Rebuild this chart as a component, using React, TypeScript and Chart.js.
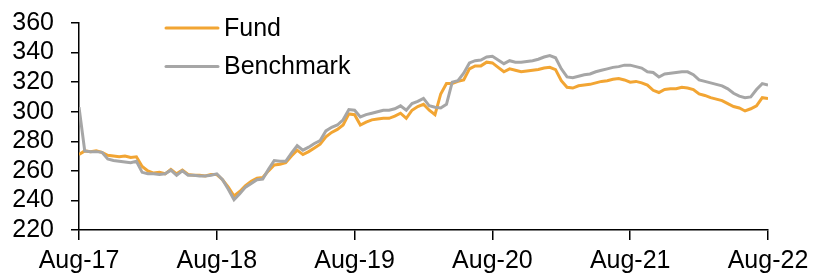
import React, { useEffect, useRef } from "react";
import { Chart, registerables } from "chart.js";

Chart.register(...registerables);

// Half-monthly observations, Aug-2017 .. Aug-2022
const fund: number[] = [
  271, 273.5, 273, 273.5, 272.5, 270.5, 270, 269.5, 270, 269,
  269.5, 263, 260, 258.5, 259, 258, 261, 258, 260.5, 257.5,
  257, 257, 256.5, 257.5, 257.5, 254, 249, 243, 246, 250,
  253, 255, 255.5, 260, 264, 264.5, 265.5, 270, 274, 271,
  273, 275.5, 278, 283, 286, 288, 291, 298.5, 298, 291,
  293, 294.5, 295, 295.5, 295.5, 297, 299, 295.5, 301, 303.5,
  305, 301, 298, 312, 319, 319, 320.5, 321.5, 329, 331,
  331, 333.5, 333, 330, 327, 329, 328, 327, 327.5, 328,
  328.5, 329.5, 330, 328.5, 321, 316.5, 316, 317.5, 318, 318.5,
  319.5, 320.5, 321, 322, 322.5, 321.5, 320, 320.5, 319.5, 318,
  314.5, 313, 315, 315.5, 315.5, 316.5, 316, 315, 312, 311,
  309.5, 308.5, 307.5, 305.5, 303.5, 302.5, 300.5, 302, 304, 309.5,
  309,
];

const benchmark: number[] = [
  303, 273.5, 273, 273, 272.5, 268, 267, 266.5, 266, 265.5,
  266.5, 259, 258, 258, 257.5, 258, 260.5, 257, 260, 257,
  257, 256.5, 256.5, 257, 258, 254, 247.5, 240.5, 244.5, 249,
  251.5, 254, 254.5, 261, 267, 266.5, 266.5, 272, 277, 274,
  276, 278.5, 280.5, 287, 289.5, 291, 294.5, 301.5, 301, 296.5,
  298, 299, 300, 301, 301, 302, 304, 301, 305.5, 307,
  309, 304, 303, 302.5, 305, 320, 321, 326, 333, 334.5,
  335, 337, 337.5, 335, 332.5, 334.5, 333.5, 333.5, 334, 334.5,
  335.5, 337, 338, 336.5, 329, 323.5, 323, 324, 325, 325.5,
  327, 328, 329, 330, 330.5, 331.5, 331.5, 330.5, 329.5, 327,
  326.5, 323.5, 325.5, 326, 326.5, 327, 327, 325, 321.5, 320.5,
  319.5, 318.5, 317.5, 315.5, 312.5, 310.5, 309.5, 310, 315, 319,
  318,
];

// months since Aug-2017 for each observation
const periods: number[] = fund.map((_, i) => i / 2);

const tickLabels: string[] = ["Aug-17", "Aug-18", "Aug-19", "Aug-20", "Aug-21", "Aug-22"];
const seriesNames: string[] = ["Fund", "Benchmark"];
const seriesColors: string[] = ["#F2A533", "#A6A6A6"];

const FONT = "'Liberation Sans', Arial, sans-serif";

const legendPlugin = {
  id: "insideLegend",
  afterDraw(chart: any) {
    const ctx = chart.ctx;
    ctx.save();
    const rows = [28, 66.5];
    seriesNames.forEach((name, i) => {
      const y = rows[i];
      ctx.strokeStyle = seriesColors[i];
      ctx.lineWidth = 3;
      ctx.lineCap = "round";
      ctx.beginPath();
      ctx.moveTo(166, y);
      ctx.lineTo(218, y);
      ctx.stroke();
      ctx.fillStyle = "#000";
      ctx.font = `25px ${FONT}`;
      ctx.textBaseline = "middle";
      ctx.textAlign = "left";
      ctx.fillText(name, 224, y + 1);
    });
    ctx.restore();
  },
};

export default function App() {
  const ref = useRef<HTMLCanvasElement | null>(null);

  useEffect(() => {
    if (!ref.current) return;
    const chart = new Chart(ref.current, {
      type: "line",
      data: {
        datasets: [
          {
            label: seriesNames[0],
            data: fund.map((v, i) => ({ x: periods[i], y: v })),
            borderColor: seriesColors[0],
            borderWidth: 3,
            pointRadius: 0,
            tension: 0,
            order: 1,
          },
          {
            label: seriesNames[1],
            data: benchmark.map((v, i) => ({ x: periods[i], y: v })),
            borderColor: seriesColors[1],
            borderWidth: 3,
            pointRadius: 0,
            tension: 0,
            order: 0,
          },
        ],
      },
      options: {
        animation: false,
        responsive: true,
        maintainAspectRatio: false,
        layout: { padding: { top: 23, right: 46, left: 0, bottom: 0 } },
        plugins: {
          legend: { display: false },
          tooltip: { enabled: false },
        },
        scales: {
          x: {
            type: "linear",
            min: 0,
            max: 60,
            afterFit: (s: any) => {
              s.height = 45;
              s.paddingLeft = 0;
              s.paddingRight = 0;
            },
            border: { display: true, color: "#000", width: 1.5 },
            grid: {
              display: true,
              drawOnChartArea: false,
              drawTicks: true,
              tickLength: 10,
              color: "#000",
              lineWidth: 1.5,
            },
            ticks: {
              stepSize: 12,
              autoSkip: false,
              maxRotation: 0,
              padding: 6,
              color: "#000",
              font: { family: FONT, size: 25 },
              callback: (v: any) => tickLabels[Math.round(Number(v) / 12)] ?? "",
            },
          },
          y: {
            min: 220,
            max: 360,
            afterFit: (s: any) => {
              s.width = 79;
              s.paddingTop = 0;
              s.paddingBottom = 0;
            },
            border: { display: true, color: "#000", width: 1.5 },
            grid: {
              display: true,
              drawOnChartArea: false,
              drawTicks: true,
              tickLength: 8,
              color: "#000",
              lineWidth: 1.5,
            },
            ticks: {
              stepSize: 20,
              autoSkip: false,
              padding: 17,
              color: "#000",
              font: { family: FONT, size: 25, lineHeight: 1 },
            },
          },
        },
      },
      plugins: [legendPlugin],
    });
    return () => chart.destroy();
  }, []);

  return (
    <div style={{ position: "fixed", left: 0, top: 0, width: 814, height: 275, background: "#fff" }}>
      <canvas ref={ref} />
    </div>
  );
}
